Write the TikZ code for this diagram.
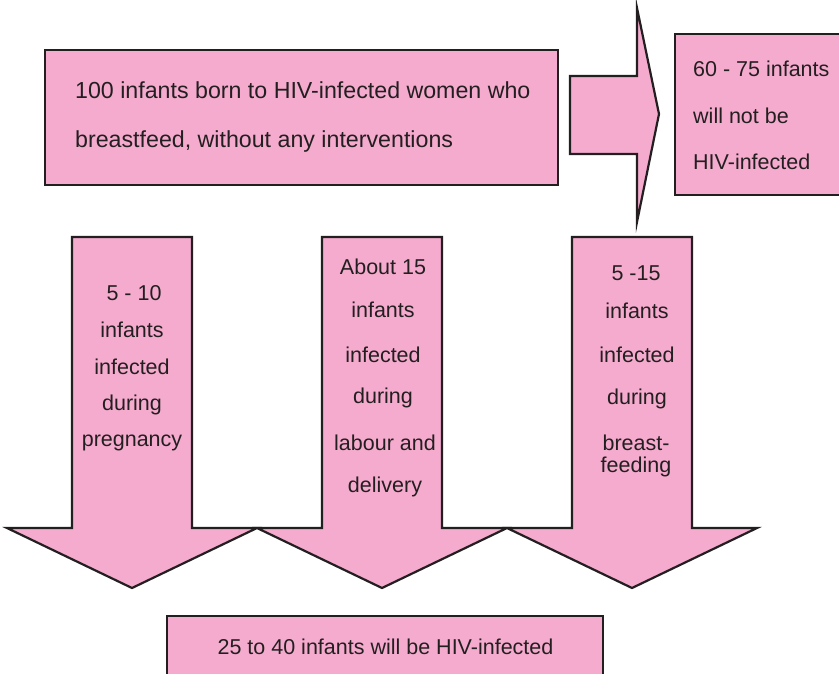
\documentclass[tikz,border=0pt]{standalone}
\usepackage{fontspec}
\setmainfont{Liberation Sans}
\definecolor{boxpink}{HTML}{F5ABCE}
\definecolor{edge}{HTML}{231F20}
\definecolor{txt}{HTML}{231F20}
\tikzset{
  shapefill/.style={fill=boxpink, draw=edge, line width=2.2pt, line join=miter},
  lbl/.style={inner sep=0pt, text=txt, font=\fontsize{21.5}{44}\selectfont},
  biglbl/.style={lbl, font=\fontsize{23.2}{44}\selectfont},
}
\begin{document}
\begin{tikzpicture}[x=1pt,y=-1pt]
\useasboundingbox (0,0) rectangle (839,674);
\clip (0,0) rectangle (839,674);
% top box
\draw[shapefill] (45,50) rectangle (558,185);
% right arrow
\draw[shapefill] (570,76) -- (637,76) -- (637,8) -- (659,114) -- (637,222) -- (637,154) -- (570,154) -- cycle;
% right box
\draw[shapefill] (675,34) rectangle (845,195);
% down arrows
\foreach \c in {132,382,632}{
  \draw[shapefill] (\c-60,237) -- (\c+60,237) -- (\c+60,528) -- (\c+125,528) -- (\c,588) -- (\c-125,528) -- (\c-60,528) -- cycle;
}
% bottom box
\draw[shapefill] (167,616) rectangle (603,690);

% texts
\node[biglbl, anchor=west] (t1) at (75,90) {100 infants born to HIV-infected women who};
\node[biglbl, anchor=west] (t2) at (75,142) {breastfeed, without any interventions};
\node[lbl, anchor=west] (r1) at (693,69) {60 - 75 infants};
\node[lbl, anchor=west] (r2) at (693,116) {will not be};
\node[lbl, anchor=west] (r3) at (693,162) {HIV-infected};

\node[lbl] (a1l1) at (134,293) {5 - 10};
\node[lbl] (a1l2) at (132,330) {infants};
\node[lbl] (a1l3) at (132,367) {infected};
\node[lbl] (a1l4) at (132,405) {during};
\node[lbl] (a1l5) at (132,443) {pregnancy};

\node[lbl] (a2l1) at (383,267) {About 15};
\node[lbl] (a2l2) at (383,310) {infants};
\node[lbl] (a2l3) at (383,355) {infected};
\node[lbl] (a2l4) at (383,398) {during};
\node[lbl] (a2l5) at (385,443) {labour and};
\node[lbl] (a2l6) at (385,487) {delivery};

\node[lbl] (a3l1) at (636,273) {5 -15};
\node[lbl] (a3l2) at (637,311) {infants};
\node[lbl] (a3l3) at (637,355) {infected};
\node[lbl] (a3l4) at (637,399) {during};
\node[lbl] (a3l5) at (636,443) {breast-};
\node[lbl] (a3l6) at (636,467) {feeding};

\node[lbl] (b1) at (385.5,647) {25 to 40 infants will be HIV-infected};
\end{tikzpicture}
\end{document}
